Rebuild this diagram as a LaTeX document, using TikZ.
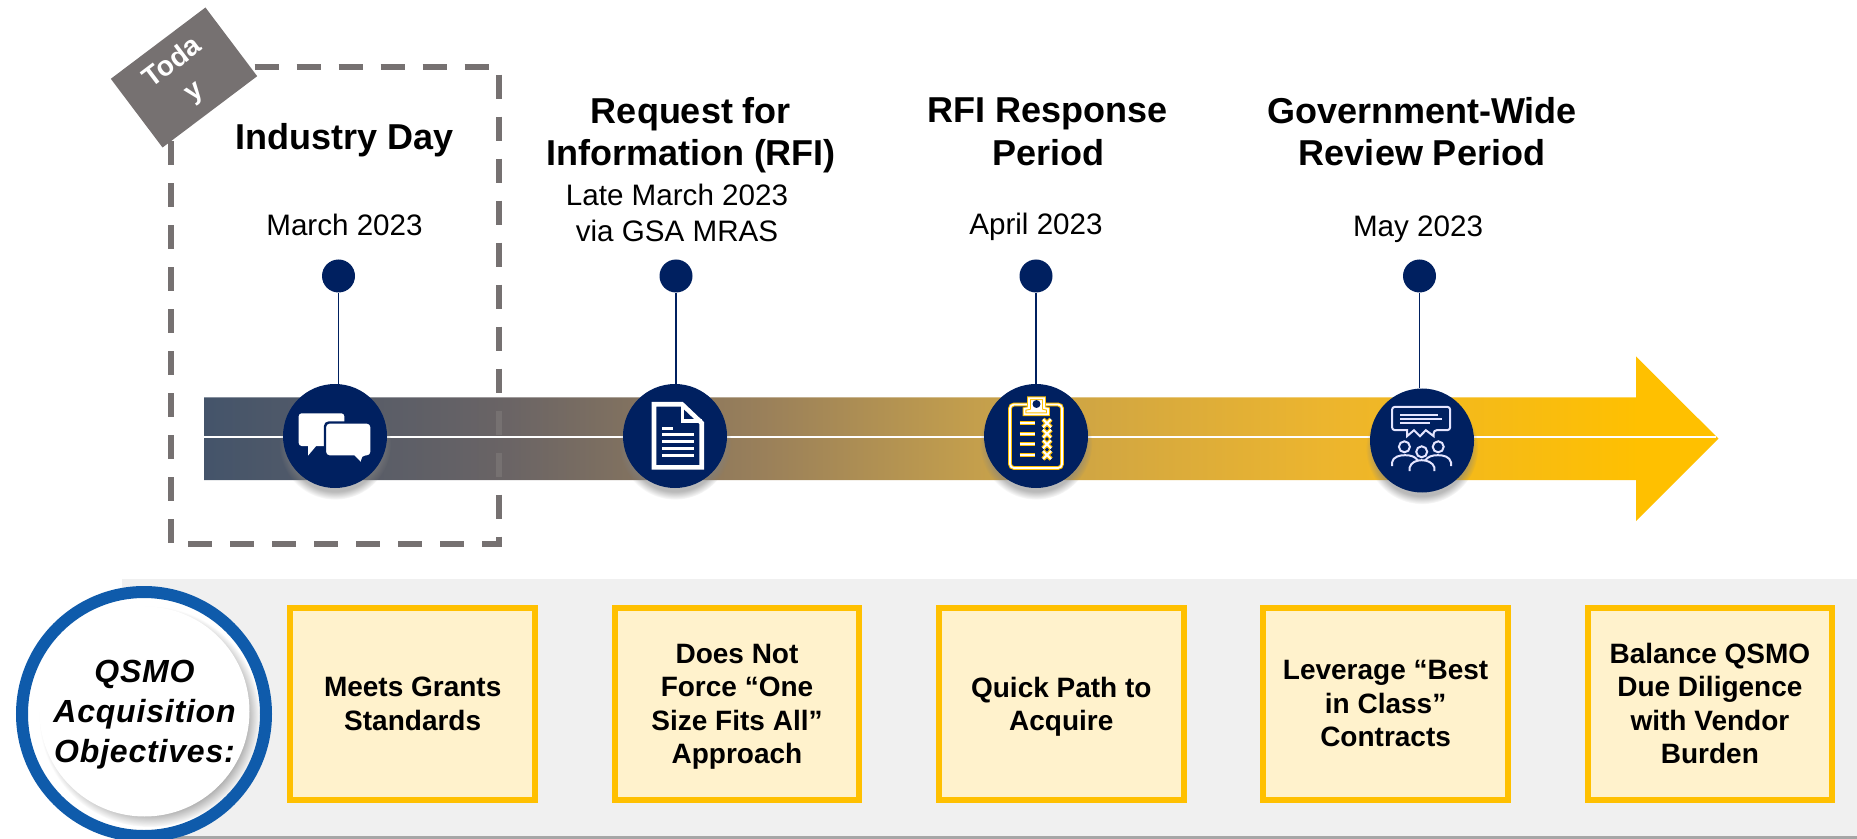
\documentclass[tikz,border=0pt]{standalone}
\usepackage{fontspec}
\setsansfont{Liberation Sans}
\usetikzlibrary{shadows,fadings}
\definecolor{navy}{HTML}{002060}
\definecolor{gold}{HTML}{FFC000}
\definecolor{cream}{HTML}{FFF2CC}
\definecolor{slate}{HTML}{767171}
\definecolor{ringblue}{HTML}{0F5BAB}
\definecolor{paleband}{HTML}{F0F0F0}
\definecolor{barA}{HTML}{44546A}
\definecolor{barB}{HTML}{6A6465}
\definecolor{barC}{HTML}{9A805A}
\definecolor{barD}{HTML}{C49F4C}
\definecolor{barE}{HTML}{ECB52E}
\pgfdeclarehorizontalshading{timeline}{100bp}{color(0bp)=(barA); color(25bp)=(barA);
    color(35bp)=(barB); color(43.5bp)=(barC); color(50.5bp)=(barD); color(62bp)=(barE);
    color(72.5bp)=(gold); color(100bp)=(gold)}
\tikzstyle{heading} = [font=\sffamily\bfseries\fontsize{18}{21.3}\selectfont]
\tikzstyle{when} = [font=\sffamily\fontsize{14.8}{17.8}\selectfont]
\tikzstyle{goal} = [rectangle, draw=gold, fill=cream, line width=3pt, minimum width=122.25pt,
    minimum height=96pt, inner sep=0pt, font=\sffamily\bfseries\fontsize{14}{16.75}\selectfont]
\tikzstyle{dot} = [circle, fill=navy, minimum size=16.5pt, inner sep=0pt]
\tikzstyle{icon} = [circle, fill=navy, minimum size=52pt, inner sep=0pt,
    circular drop shadow={shadow xshift=0pt, shadow yshift=-3.5pt, opacity=.55, shadow scale=1.08}]
\tikzstyle{stem} = [draw=navy, line width=.6pt]
\tikzstyle{todayframe} = [draw=slate, line width=3pt, dash pattern=on 12pt off 9pt]
\tikzstyle{bubble} = [fill=white, draw=navy, line width=1.2pt]
\tikzstyle{glyph} = [draw=white, line width=1.5pt]
\tikzstyle{checks} = [draw=gold, double=white, line width=.5pt, double distance=.9pt]
\tikzstyle{crowdline} = [draw=white!90!blue, line width=1pt]

\begin{document}
\begin{tikzpicture}[x=.5pt, y=-.5pt, align=center, node distance=162.15pt]
    \useasboundingbox (0,0) rectangle (1857,839);

    \fill[paleband] (122,579) rectangle (1857,836);
    \coordinate (bandl) at (122,837.5);
    \coordinate (bandr) at (1857,837.5);
    \draw[black!35, line width=1.5pt] (bandl) -- (bandr);

    \shade[shading=timeline] (204,397.5) -- (1636,397.5) -- (1636,356.5) -- (1718.5,438.7)
        -- (1636,521) -- (1636,480) -- (204,480) -- cycle;
    \coordinate (tail) at (204,437.3);
    \coordinate (tip) at (1716,437.3);
    \draw[white, line width=1pt] (tail) -- (tip);

    \coordinate (frametl) at (170.7,67);
    \coordinate (framebr) at (499,543.5);
    \path[todayframe] (frametl) -| (framebr) -| (frametl);
    \node[rectangle, fill=slate, rotate=37, minimum width=59.25pt, minimum height=43pt, inner sep=0pt,
        text=white, font=\sffamily\bfseries\fontsize{14}{18}\selectfont] (today) at (184,77.5) {Toda\\y};

    \node[heading, text depth=0pt] (tday) at (345,136) {Industry Day};
    \node[heading] (trfi) at (691,131.5) {Request for\\\smash{Information (RFI)}};
    \node[heading] (tresp) at (1048,131.5) {RFI Response\\Period};
    \node[heading] (trev) at (1422,131.5) {Government-Wide\\Review Period};

    \node[when] (wday) at (344.5,225) {March 2023};
    \node[when] (wrfi) at (677,213) {Late March 2023\\via GSA MRAS};
    \node[when, text depth=0pt] (wresp) at (1036,224) {April 2023};
    \node[when, text depth=0pt] (wrev) at (1418,226) {May 2023};

    \node[dot] (dday) at (338.5,276) {};
    \node[dot] (drfi) at (676,276) {};
    \node[dot] (dresp) at (1036,276) {};
    \node[dot] (drev) at (1419.5,276) {};

    \node[icon] (chat) at (335,436) {};
    \node[icon] (doc) at (675,436) {};
    \node[icon] (clip) at (1036,436) {};
    \node[icon] (crowd) at (1422,440.5) {};

    \path [stem] (dday) -- (dday |- chat.north);
    \path [stem] (drfi) -- (drfi |- doc.north);
    \path [stem] (dresp) -- (dresp |- clip.north);
    \path [stem] (drev) -- (drev |- crowd.north);

    \begin{scope}[shift={(chat)}]
        \fill[white, rounded corners=1.5pt] (-36.3,-22.7) rectangle (9.3,10);
        \fill[white] (-27,9) -- (-27,19.7) -- (-18,9) -- cycle;
        \path[bubble, rounded corners=2pt] (-10,-13.5) -- (36.5,-13.5) -- (36.5,20.5) -- (27.3,20.5) [sharp corners] -- (27.3,29)
            -- (18.7,20.5) [rounded corners=2pt] -- (-10,20.5) -- cycle;
    \end{scope}

    \begin{scope}[shift={(doc)}]
        \path[glyph, line width=2.3pt] (-21,-31.7) -- (7,-31.7) -- (26.7,-13) -- (26.7,31.3) -- (-21,31.3) -- cycle;
        \path[glyph, line width=1.8pt] (7.5,-31.7) -- (7.5,-15) -- (26.7,-15);
        \path[glyph] (-13,-8) -- (-1.7,-8) (-13,-1.3) -- (19.3,-1.3) (-13,5.3) -- (19.3,5.3)
            (-13,12.3) -- (19.3,12.3) (-13,19) -- (19.3,19);
    \end{scope}

    \begin{scope}[shift={(clip)}]
        \path[checks, rounded corners=2pt] (-26,-31.5) rectangle (26,32);
        \path[checks, fill=white] (-11.5,-21.7) -- (-11.5,-27) -- (-7,-28) -- (-7,-37.7) -- (8,-37.7) -- (8,-28)
            -- (12,-27) -- (12,-21.7) -- cycle;
        \fill[navy] (.5,-32) circle (2pt);
        \path[checks] (-16.5,-12.7) -- (-1,-12.7) (-16.5,-2.3) -- (-1,-2.3) (-16.5,8.3) -- (-1,8.3) (-16.5,19) -- (-1,19);
        \path[draw=gold, line width=2.2pt] (7,-16.7) -- (15,-8.7) (15,-16.7) -- (7,-8.7) (7,-6.3) -- (15,1.7) (15,-6.3) -- (7,1.7)
            (7,4.3) -- (15,12.3) (15,4.3) -- (7,12.3) (7,15) -- (15,23) (15,15) -- (7,23);
        \path[draw=white, line width=1pt] (7,-16.7) -- (15,-8.7) (15,-16.7) -- (7,-8.7) (7,-6.3) -- (15,1.7) (15,-6.3) -- (7,1.7)
            (7,4.3) -- (15,12.3) (15,4.3) -- (7,12.3) (7,15) -- (15,23) (15,15) -- (7,23);
    \end{scope}

    \begin{scope}[shift={(crowd)}]
        \path[crowdline, rounded corners=1.5pt] (-30,-33.7) -- (28.2,-33.7) -- (28.2,-10.3) -- (11.7,-10.3) [sharp corners]
            -- (11.7,-4.3) -- (3.8,-10.3) -- (-2,-4.3) -- (-8,-10.3) -- (-15,-4.3) -- (-15,-10.3) [rounded corners=1.5pt]
            -- (-30,-10.3) -- cycle;
        \path[crowdline, line width=1.1pt] (-22,-25.3) -- (16.2,-25.3) (-22,-21.3) -- (20.3,-21.3) (-22,-17.3) -- (8.3,-17.3);
        \path[crowdline] (-17.6,6.3) circle (5.5) (-.3,11.3) circle (5.5) (16.2,6.3) circle (5.5);
        \path[crowdline] (-30,25.7) -- (-30,22) .. controls (-29,16) and (-22,14.7) .. (-17,14.7) .. controls (-11,14.7) and (-7,16) .. (-4,20);
        \path[crowdline] (29,25.7) -- (29,22) .. controls (28,16) and (21,14.7) .. (16,14.7) .. controls (10,14.7) and (6,16) .. (3,20);
        \path[crowdline] (-12.4,30.7) -- (-12.4,27) .. controls (-11,22) and (-6,19.7) .. (-.3,19.7) .. controls (5,19.7) and (11,22) .. (12.4,27) -- (12.4,30.7);
    \end{scope}

    \node[circle, draw=ringblue, fill=white, line width=6pt, minimum size=122pt, inner sep=0pt] (ring) at (144,714) {};
    \node[circle, fill=white, minimum size=105pt, inner sep=0pt,
        circular drop shadow={shadow xshift=2.5pt, shadow yshift=-2.5pt, opacity=.75, shadow scale=1.05},
        font=\sffamily\bfseries\itshape\addfontfeature{LetterSpace=2.5}\fontsize{16}{20}\selectfont] (objectives) at (144.5,711.5) {QSMO\\Acquisition\\\smash{Objectives:}};

    \node[goal] (grants) at (412.7,703.7) {Meets Grants\\Standards};
    \node[goal, right of=grants] (force) {Does Not\\Force “One\\Size Fits All”\\\smash{Approach}};
    \node[goal, right of=force] (quick) {Quick Path to\\\smash{Acquire}};
    \node[goal, right of=quick] (contracts) {Leverage “Best\\in Class”\\Contracts};
    \node[goal, right of=contracts] (burden) {Balance QSMO\\Due Diligence\\with Vendor\\Burden};
\end{tikzpicture}
\end{document}
